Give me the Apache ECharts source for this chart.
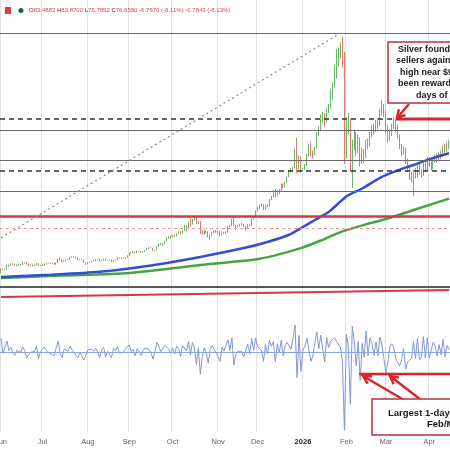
<!DOCTYPE html>
<html><head><meta charset="utf-8">
<script src="https://cdn.jsdelivr.net/npm/echarts@6/dist/echarts.min.js"></script>
<style>html,body{margin:0;padding:0;background:#fff}#c{width:450px;height:450px}</style>
</head><body><div id="c"></div>
<script>
// ---- tick labels (one per month start) ----
const tickLabels = ['Jun','Jul','Aug','Sep','Oct','Nov','Dec','2026','Feb','Mar','Apr'];
// ---- daily candles [open, close, low, high] ----
const ohlcJun = [[33.4,34.6,33.2,34.9],[34.6,34.5,34.1,34.9],[34.5,34.5,34.2,34.8],[34.5,35.8,34.4,36.4],[35.8,36.0,35.5,36.3],[36.0,36.6,35.8,36.8],[36.6,36.5,36.2,36.8],[36.5,36.1,35.9,36.6],[36.1,36.3,35.6,36.4],[36.3,36.3,35.9,36.6],[36.3,36.3,36.0,36.6],[36.3,37.0,36.2,37.2],[37.0,37.2,36.8,37.3],[37.2,36.5,36.3,37.2],[36.5,36.0,35.7,36.6],[36.0,36.0,35.8,36.3],[36.0,35.9,35.6,36.2],[35.9,36.0,35.8,36.3],[36.0,36.8,35.9,36.9],[36.8,36.0,35.8,36.8],[36.0,36.1,35.8,36.3]];
const ohlcJul = [[36.1,36.0,35.8,36.4],[36.0,36.6,35.9,36.7],[36.6,36.8,36.4,37.0],[36.8,37.0,36.7,37.1],[37.0,36.8,36.5,37.1],[36.8,36.8,36.6,37.1],[36.8,36.4,36.2,37.0],[36.4,37.0,36.3,37.1],[37.0,38.4,36.9,38.5],[38.4,38.2,38.0,39.1],[38.2,37.5,37.3,38.3],[37.5,37.9,37.3,38.0],[37.9,38.1,37.5,38.2],[38.1,38.2,38.0,38.4],[38.2,39.0,38.1,39.2],[39.0,39.3,38.9,39.4],[39.3,39.3,38.9,39.5],[39.3,38.9,38.6,39.4],[38.9,38.2,38.0,39.0],[38.2,38.2,37.9,38.4],[38.2,38.1,37.9,38.3],[38.1,37.1,36.9,38.2],[37.1,36.7,36.2,37.1]];
const ohlcAug = [[36.7,37.0,36.5,37.2],[37.0,37.3,36.9,37.4],[37.3,37.7,37.2,37.8],[37.7,37.8,37.6,38.0],[37.8,38.3,37.7,38.4],[38.3,38.3,38.1,38.5],[38.3,37.6,37.4,38.4],[37.6,37.9,37.5,38.0],[37.9,38.5,37.8,38.6],[38.5,37.9,37.7,38.6],[37.9,38.0,37.8,38.1],[38.0,38.1,37.8,38.2],[38.1,37.4,37.2,38.2],[37.4,37.9,37.3,38.0],[37.9,38.1,37.8,38.3],[38.1,38.9,38.0,39.1],[38.9,38.8,38.6,39.1],[38.8,38.6,38.4,38.9],[38.6,38.6,38.4,38.8],[38.6,39.0,38.5,39.1],[39.0,39.7,38.9,39.8]];
const ohlcSep = [[39.7,40.7,39.6,40.8],[40.7,40.8,40.4,41.0],[40.8,41.2,40.6,41.5],[41.2,40.7,40.4,41.3],[40.7,41.2,40.6,41.6],[41.2,41.3,41.0,41.5],[41.3,40.9,40.7,41.4],[40.9,41.1,40.8,41.3],[41.1,41.7,41.0,41.8],[41.7,42.2,41.6,42.4],[42.2,42.6,42.1,42.8],[42.6,42.6,42.4,42.9],[42.6,41.6,41.4,42.7],[41.6,41.7,41.3,41.9],[41.7,43.1,41.6,43.2],[43.1,43.9,43.0,44.2],[43.9,44.0,43.6,44.5],[44.0,44.0,43.5,44.4],[44.0,45.0,43.9,45.2],[45.0,46.3,44.9,46.4],[46.3,46.8,46.0,47.0],[46.8,46.6,45.9,47.2]];
const ohlcOct = [[46.6,47.3,46.4,47.5],[47.3,47.0,46.6,47.6],[47.0,48.0,46.9,48.1],[48.0,48.6,47.9,48.8],[48.6,47.9,47.5,48.8],[47.9,49.0,47.8,49.2],[49.0,50.0,48.9,51.2],[50.0,50.2,48.8,51.0],[50.2,52.0,50.0,52.3],[52.0,51.5,50.5,53.6],[51.5,53.2,51.3,53.4],[53.2,54.0,52.8,54.4],[54.0,51.8,51.6,54.5],[51.8,52.6,51.5,52.8],[52.6,48.7,47.8,52.7],[48.7,48.0,47.5,49.2],[48.0,48.7,47.5,49.0],[48.7,48.6,48.0,49.2],[48.6,46.8,46.5,48.8],[46.8,47.2,45.6,47.5],[47.2,48.3,47.0,48.5],[48.3,48.7,48.1,49.0],[48.7,48.7,48.2,49.2]];
const ohlcNov = [[48.7,48.7,48.0,49.0],[48.7,47.2,46.9,48.8],[47.2,48.0,47.1,48.3],[48.0,48.2,47.8,48.6],[48.2,48.4,47.9,48.7],[48.4,50.5,48.3,50.7],[50.5,50.8,50.2,51.2],[50.8,53.3,50.7,53.5],[53.3,51.0,50.8,54.4],[51.0,50.6,49.5,51.3],[50.6,50.8,50.2,51.2],[50.8,51.3,50.5,51.6],[51.3,51.4,51.0,52.0],[51.4,50.6,50.3,51.6],[50.6,49.9,49.2,50.8],[49.9,51.3,49.8,51.5],[51.3,51.0,50.6,51.4],[51.0,53.4,50.9,53.6],[53.4,53.8,53.2,54.0],[53.8,56.4,53.7,56.6]];
const ohlcDec = [[56.4,57.5,56.2,58.0],[57.5,58.5,57.2,58.8],[58.5,58.8,58.0,59.3],[58.8,57.0,56.7,59.0],[57.0,58.5,56.9,58.9],[58.5,58.2,57.8,58.8],[58.2,60.6,58.1,60.8],[60.6,61.8,60.4,62.0],[61.8,64.0,61.6,64.3],[64.0,62.0,61.5,64.6],[62.0,63.8,61.8,64.2],[63.8,63.7,62.6,64.5],[63.7,66.3,63.5,66.6],[66.3,65.5,64.9,66.8],[65.5,67.0,65.2,67.4],[67.0,69.2,66.9,69.4],[69.2,71.3,69.0,71.8],[71.3,72.0,70.8,72.5],[72.0,72.5,71.6,72.8],[72.5,79.2,72.4,79.8],[79.2,72.4,70.5,83.8],[72.4,76.5,72.0,77.2],[76.5,71.5,70.8,76.8]];
const ohlcJan = [[71.5,72.0,71.2,72.5],[72.0,73.5,71.8,74.0],[73.5,77.0,73.2,77.5],[77.0,81.0,76.8,81.5],[81.0,78.5,77.0,82.0],[78.5,77.5,76.0,79.0],[77.5,80.0,77.2,80.5],[80.0,85.5,79.8,86.0],[85.5,86.5,84.5,88.0],[86.5,91.5,86.2,92.5],[91.5,92.5,89.5,93.5],[92.5,89.5,88.0,93.0],[89.5,94.0,89.2,94.8],[94.0,95.5,93.0,96.5],[95.5,99.0,94.8,102.0],[99.0,103.0,98.0,104.5],[103.0,108.0,102.5,111.0],[108.0,112.0,106.0,117.0],[112.0,115.5,110.5,117.5],[115.5,117.5,113.5,119.5],[117.5,114.0,110.0,121.5],[114.0,84.0,74.0,116.0]];
const ohlcFeb = [[82.0,89.0,76.0,91.5],[89.0,91.0,85.0,93.0],[90.0,75.0,71.0,91.0],[74.0,81.5,65.0,83.0],[81.0,84.5,79.0,87.0],[84.0,80.5,77.0,86.0],[80.5,83.5,78.0,85.0],[83.0,75.5,73.0,84.0],[75.5,77.8,74.0,80.0],[77.8,76.5,74.5,79.5],[76.5,82.0,76.0,83.0],[82.0,81.0,79.5,83.5],[81.0,85.0,80.5,86.0],[85.0,87.5,84.0,88.5],[87.5,86.5,85.0,89.0],[86.5,89.5,86.0,90.5],[89.5,88.5,87.0,91.0],[88.5,93.0,88.0,94.5],[93.0,95.5,92.0,98.0],[95.5,93.5,91.5,96.5]];
const ohlcMar = [[93.5,87.0,85.5,94.0],[87.0,84.0,82.0,88.5],[84.0,85.5,82.5,87.0],[85.5,88.0,84.5,89.0],[88.0,89.5,87.0,91.5],[89.5,87.5,86.0,90.5],[87.5,84.5,83.5,88.5],[84.5,80.5,79.5,85.0],[80.5,78.5,77.0,81.5],[78.5,79.5,77.5,80.5],[79.5,75.0,74.0,80.0],[75.0,72.5,71.0,76.0],[72.5,70.0,68.0,73.5],[70.0,68.5,67.0,71.0],[68.5,71.0,62.0,72.0],[71.0,69.5,68.5,72.5],[69.5,72.8,69.0,73.5],[72.8,71.0,70.0,74.0],[71.0,69.8,68.8,72.0],[69.8,73.5,69.5,74.5],[73.5,72.0,71.0,74.5],[72.0,75.5,71.5,76.5]];
const ohlcApr = [[75.5,74.0,73.0,76.5],[74.0,72.5,71.5,75.0],[72.5,75.0,72.0,76.0],[75.0,76.5,74.5,77.5],[76.5,75.5,74.5,78.0],[75.5,77.5,75.0,78.5],[77.5,76.8,75.8,79.0],[76.8,80.2,76.5,81.0],[80.2,79.0,78.0,81.5],[79.0,80.8,78.5,82.0],[80.8,81.5,79.5,83.0]];
// ---- daily % change (lower panel) ----
const chgJun = [4.7,-0.3,0.0,3.8,0.6,1.7,-0.3,-1.1,0.6,0.0,0.0,1.9,0.5,-1.9,-1.4,0.0,-0.3,0.3,2.2,-2.2,0.3];
const chgJul = [-0.3,1.7,0.5,0.5,-0.5,0.0,-1.1,1.6,3.8,-0.5,-1.8,1.1,0.5,0.3,2.1,0.8,0.0,-1.0,-1.8,0.0,-0.3,-2.6,-1.1];
const chgAug = [0.8,0.8,1.1,0.3,1.3,0.0,-1.8,0.8,1.6,-1.6,0.3,0.3,-1.8,1.3,0.5,2.1,-0.3,-0.5,0.0,1.0,1.8];
const chgSep = [2.5,0.2,1.0,-1.2,1.2,0.2,-1.0,0.5,1.5,1.2,0.9,0.0,-2.3,0.2,3.4,1.9,0.2,0.0,2.3,2.9,1.1,-0.4];
const chgOct = [1.5,-0.6,2.1,1.3,-1.4,2.3,2.0,0.4,3.6,-1.0,3.3,1.5,-4.1,1.5,-7.4,-1.4,1.5,-0.2,-3.7,0.9,2.3,0.8,0.0];
const chgNov = [0.0,-3.1,1.7,0.4,0.4,4.3,0.6,4.9,-4.3,-0.8,0.4,1.0,0.2,-1.6,-1.4,2.8,-0.6,4.7,0.7,4.8];
const chgDec = [2.0,1.7,0.5,-3.1,2.6,-0.5,4.1,2.0,3.6,-3.1,2.9,-0.2,4.1,-1.2,2.3,3.3,3.0,1.0,0.7,9.2,-8.6,5.7,-6.5];
const chgJan = [0.7,2.1,4.8,5.2,-3.1,-1.3,3.2,6.9,1.2,5.8,1.1,-3.2,5.0,1.6,3.7,4.0,4.9,3.7,3.1,1.7,-3.0,-26.3];
const chgFeb = [6.0,2.2,-17.6,8.7,3.7,-4.7,3.7,-9.6,3.0,-1.7,7.2,-1.2,4.9,2.9,-1.1,3.5,-1.1,5.1,2.7,-2.1];
const chgMar = [-7.0,-3.4,1.8,2.9,1.7,-2.2,-3.4,-4.7,-2.5,1.3,-5.7,-3.3,-3.4,-2.1,3.6,-2.1,4.7,-2.5,-1.7,5.3,-2.0,4.9];
const chgApr = [-2.0,-2.0,3.4,2.0,-1.3,2.6,-0.9,4.4,-1.5,2.3,0.9];
// ---- moving averages read at sample days [dayIndex, value] ----
const blueMA = [[0,31.7],[25,32.5],[50,33.6],[76,36.0],[101,39.2],[123,42.5],[135,44.8],[146,47.5],[152,50.0],[159,53.0],[166,56.0],[175,61.8],[183,64.8],[192,68.8],[200,71.3],[209,73.6],[218,76.0],[227,78.0]];
const greenMA = [[0,31.3],[30,32.2],[65,33.2],[101,36.2],[131,38.5],[152,42.5],[162,45.3],[172,48.5],[184,51.2],[195,53.4],[211,57.2],[227,61.0]];
// ---- price levels ----
const solidGrayLevels = [123, 86.7, 75.5, 63.9];
const dashedBlackLevels = [90.8, 71.4];
const redSupportLevel = 54.5;
const redDashedLevel = 50.0;
const blackLevel = 27.9;
const redTrend = [24.2, 26.8];          // start / end value
const dottedDiag = [[0, 46.3], [172, 123]]; // [dayIndex, value]
const header = {O:'83.4883', H:'83.8700', L:'75.7852', C:'76.6580', chg1:'-6.7670 (-8.11%)', chg2:'-6.7843 (-8.13%)'};

// ---- build ----
const ohlc = [].concat(ohlcJun,ohlcJul,ohlcAug,ohlcSep,ohlcOct,ohlcNov,ohlcDec,ohlcJan,ohlcFeb,ohlcMar,ohlcApr);
const chg = [].concat(chgJun,chgJul,chgAug,chgSep,chgOct,chgNov,chgDec,chgJan,chgFeb,chgMar,chgApr);
const dates = [];
for (let t = Date.UTC(2025,5,2); t <= Date.UTC(2026,3,15); t += 86400000) {
  const d = new Date(t), w = d.getUTCDay();
  if (w !== 0 && w !== 6) dates.push(d.toISOString().slice(0,10));
}
const N = dates.length;
const monthStart = {};
let k = 0;
dates.forEach((d,i) => { if (i === 0 || d.slice(5,7) !== dates[i-1].slice(5,7)) monthStart[i] = tickLabels[k++]; });
const isStart = (i) => monthStart[i] !== undefined;

const FONT = 'Liberation Sans';
const RED = '#d8262b';
const chart = echarts.init(document.getElementById('c'), null, {renderer:'canvas'});

function arrow(x1,y1,x2,y2,w){
  const a = Math.atan2(y2-y1,x2-x1), L = 9, s = 0.5;
  return [
    {type:'line', z:100, shape:{x1,y1,x2,y2}, style:{stroke:RED, lineWidth:w}},
    {type:'polyline', z:100, shape:{points:[[x2-L*Math.cos(a-s), y2-L*Math.sin(a-s)],[x2,y2],[x2-L*Math.cos(a+s), y2-L*Math.sin(a+s)]]}, style:{stroke:RED, lineWidth:w, fill:null}}
  ];
}

const levelLines = [];
solidGrayLevels.forEach(v => levelLines.push({yAxis:v, lineStyle:{color:'#6a6a6a', width:1, type:'solid'}}));
dashedBlackLevels.forEach(v => levelLines.push({yAxis:v, lineStyle:{color:'#333', width:1.5, type:[5,4]}}));
levelLines.push({yAxis:redSupportLevel, lineStyle:{color:'#d9363e', width:2.5, type:'solid'}});
levelLines.push({yAxis:redDashedLevel, lineStyle:{color:'#ee9a9a', width:1, type:[3,3]}});
levelLines.push({yAxis:blackLevel, lineStyle:{color:'#222', width:1.5, type:'solid'}});
levelLines.push([{coord:[dates[0], redTrend[0]]},{coord:[dates[N-1], redTrend[1]], lineStyle:{color:'#d9363e', width:2, type:'solid'}}]);
levelLines.push([{coord:[dates[dottedDiag[0][0]], dottedDiag[0][1]]},{coord:[dates[dottedDiag[1][0]], dottedDiag[1][1]], lineStyle:{color:'#8a8a8a', width:1.2, type:[2,3]}}]);

const option = {
  animation:false,
  backgroundColor:'#fff',
  textStyle:{fontFamily:FONT},
  grid:[
    {left:0,right:0,top:0,height:305, containLabel:false, outerBoundsMode:'none'},
    {left:0,right:0,top:305,height:127, containLabel:false, outerBoundsMode:'none'}
  ],
  xAxis:[
    {type:'category', gridIndex:0, data:dates, boundaryGap:true,
     axisLine:{show:false}, axisTick:{show:false}, axisLabel:{show:false},
     splitLine:{show:true, interval:(i)=>isStart(i), lineStyle:{color:'#e3e3e3', width:1}}},
    {type:'category', gridIndex:1, data:dates, boundaryGap:true,
     axisLine:{show:true, lineStyle:{color:'#dedede'}}, axisTick:{show:false},
     axisLabel:{show:true, interval:(i)=>isStart(i), margin:6, fontSize:7.5, color:'#666', fontFamily:FONT,
       align:'center', hideOverlap:false,
       formatter:(v,i)=>{const l = monthStart[i]; return l==='2026' ? '{b|2026}' : l;},
       rich:{b:{fontWeight:'bold', color:'#222', fontSize:7.5, fontFamily:FONT}}},
     splitLine:{show:true, interval:(i)=>isStart(i), lineStyle:{color:'#e3e3e3', width:1}}}
  ],
  yAxis:[
    {type:'value', gridIndex:0, min:21.2, max:135.35, show:false, splitLine:{show:false}},
    {type:'value', gridIndex:1, min:-27, max:16, show:false, splitLine:{show:false}}
  ],
  series:[
    {type:'candlestick', xAxisIndex:0, yAxisIndex:0, data:ohlc, barWidth:'60%',
     itemStyle:{color:'#68b866', color0:'#e6736c', borderColor:'#68b866', borderColor0:'#e6736c', borderWidth:1},
     markLine:{silent:true, symbol:['none','none'], label:{show:false}, animation:false, data:levelLines}},
    {type:'line', xAxisIndex:0, yAxisIndex:0, data:greenMA.map(p=>[dates[p[0]],p[1]]), smooth:0.25, showSymbol:false,
     lineStyle:{color:'#45a63f', width:2.5}, z:3},
    {type:'line', xAxisIndex:0, yAxisIndex:0, data:blueMA.map(p=>[dates[p[0]],p[1]]), smooth:0.25, showSymbol:false,
     lineStyle:{color:'#2f4fd6', width:2.5}, z:3},
    {type:'line', xAxisIndex:1, yAxisIndex:1, data:chg, showSymbol:false,
     lineStyle:{color:'#7e98da', width:1},
     markLine:{silent:true, symbol:['none','none'], label:{show:false}, data:[{yAxis:0, lineStyle:{color:'#8ea3e0', width:1, type:'solid'}}]}}
  ],
  graphic:[
    // header
    {type:'rect', z:100, shape:{x:5,y:7,width:6,height:7}, style:{fill:'#e03c3c'}},
    {type:'circle', z:100, shape:{cx:21,cy:10.5,r:2.5}, style:{fill:'#1d5e4e'}},
    {type:'text', z:100, x:29, y:10.5, style:{
      text:`{k|O}{v|${header.O}} {k|H}{v|${header.H}} {k|L}{v|${header.L}} {k|C}{v|${header.C}} {v|${header.chg1}} {v|${header.chg2}}`,
      verticalAlign:'middle', font:`6px ${FONT}`,
      rich:{k:{fill:'#333', fontSize:6, fontFamily:FONT}, v:{fill:'#d9484a', fontSize:6, fontFamily:FONT}}}},
    // upper annotation
    {type:'rect', z:100, shape:{x:388,y:42,width:120,height:61}, style:{fill:'#fff', stroke:'#b3353c', lineWidth:1.5}},
    {type:'text', z:101, x:398, y:49.5, style:{text:'Silver found selling', font:`bold 9px ${FONT}`, fill:'#1a1a1a', verticalAlign:'middle'}},
    {type:'text', z:101, x:396, y:61, style:{text:'sellers against the', font:`bold 9px ${FONT}`, fill:'#1a1a1a', verticalAlign:'middle'}},
    {type:'text', z:101, x:400, y:72.5, style:{text:'high near $96 and has', font:`bold 9px ${FONT}`, fill:'#1a1a1a', verticalAlign:'middle'}},
    {type:'text', z:101, x:398, y:84, style:{text:'been rewarded over', font:`bold 9px ${FONT}`, fill:'#1a1a1a', verticalAlign:'middle'}},
    {type:'text', z:101, x:416, y:95.5, style:{text:'days of trading', font:`bold 9px ${FONT}`, fill:'#1a1a1a', verticalAlign:'middle'}},
    {type:'line', z:100, shape:{x1:396,y1:119,x2:452,y2:119}, style:{stroke:RED, lineWidth:3}},
    ...arrow(409,104,397,118,2.5),
    // lower annotation
    {type:'line', z:100, shape:{x1:359,y1:374,x2:452,y2:374}, style:{stroke:RED, lineWidth:2.5}},
    ...arrow(404,400,363,376,2.5),
    ...arrow(421,400,390,376,2.5),
    {type:'rect', z:100, shape:{x:372,y:399,width:120,height:36}, style:{fill:'#fff', stroke:'#b3353c', lineWidth:1.5}},
    {type:'text', z:101, x:388, y:413.5, style:{text:'Largest 1-day declines', font:`bold 9.5px ${FONT}`, fill:'#1a1a1a', verticalAlign:'middle'}},
    {type:'text', z:101, x:427, y:424, style:{text:'Feb/Mar', font:`bold 9.5px ${FONT}`, fill:'#1a1a1a', verticalAlign:'middle'}}
  ]
};
chart.setOption(option);
</script>
</body></html>
